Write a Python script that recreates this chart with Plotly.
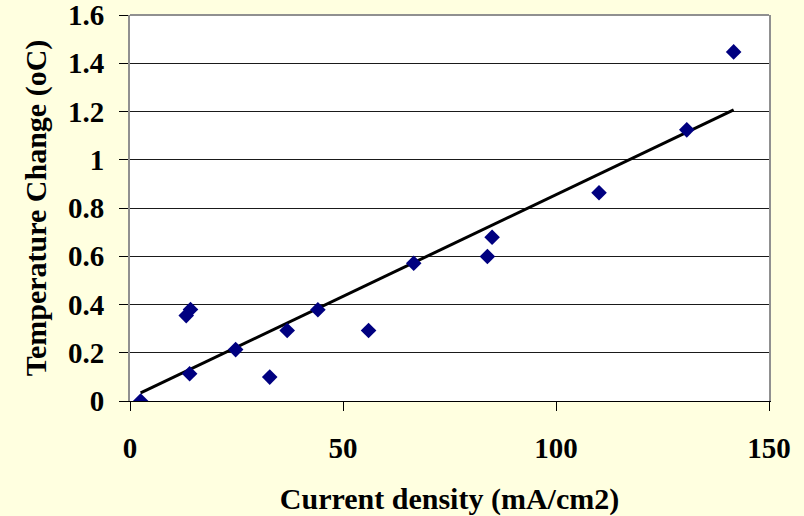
import numpy as np
import plotly.graph_objects as go

current_density = [2.5, 13.2, 14.2, 14.0, 24.8, 32.8, 36.9, 44.1, 56.0, 66.6, 83.9, 85.0, 110.1, 130.7, 141.7]
temp_change = [0.0, 0.354, 0.379, 0.113, 0.213, 0.099, 0.292, 0.378, 0.292, 0.571, 0.599, 0.679, 0.863, 1.124, 1.447]

x_ticks = [0, 50, 100, 150]
y_ticks = [0, 0.2, 0.4, 0.6, 0.8, 1, 1.2, 1.4, 1.6]
y_ticktext = ['0', '0.2', '0.4', '0.6', '0.8', '1', '1.2', '1.4', '1.6']

FONT = 'Liberation Serif, Times New Roman, serif'
BG = '#FFFFE0'

# Linear trendline, like Excel's
slope, intercept = np.polyfit(current_density, temp_change, 1)
fit_x = [min(current_density), max(current_density)]
fit_y = [slope * v + intercept for v in fit_x]

fig = go.Figure()

fig.add_trace(go.Scatter(
    x=fit_x, y=fit_y,
    mode='lines',
    line=dict(color='black', width=3),
    showlegend=False,
))

fig.add_trace(go.Scatter(
    x=current_density, y=temp_change,
    mode='markers',
    marker=dict(symbol='diamond', size=12, color='#000080'),
    showlegend=False,
))

fig.update_layout(
    width=804,
    height=516,
    margin=dict(l=130, r=35, t=15, b=115),
    paper_bgcolor=BG,
    plot_bgcolor='white',
    font=dict(family=FONT, color='black', size=29, weight='bold'),
    xaxis=dict(
        range=[0, 150],
        tickvals=x_ticks,
        ticks='outside', ticklen=9, tickcolor='black',
        ticklabelstandoff=12, ticklabeloverflow='allow',
        showgrid=False, zeroline=False,
        showline=True, linecolor='black', linewidth=1,
        title=dict(text='Current density (mA/cm2)', font=dict(size=30, weight='bold'), standoff=25),
        automargin=False,
    ),
    yaxis=dict(
        range=[0, 1.6],
        tickvals=y_ticks, ticktext=y_ticktext,
        ticks='outside', ticklen=9, tickcolor='black',
        ticklabelstandoff=9, ticklabeloverflow='allow',
        showgrid=True, gridcolor='#1a1a1a', gridwidth=1,
        zeroline=False,
        showline=True, linecolor='#909090', linewidth=2, mirror=True,
        title=dict(text='Temperature Change (oC)', font=dict(size=30, weight='bold'), standoff=12),
        automargin=False,
    ),
    shapes=[dict(type='line', xref='paper', yref='paper', x0=0, x1=1, y0=1, y1=1,
                 line=dict(color='#909090', width=2))],
)

# drop the page's default body margin so the figure sits at the window corner
fig.write_html("out.html", config={'displayModeBar': False},
               post_script="document.body.style.margin='0';")
